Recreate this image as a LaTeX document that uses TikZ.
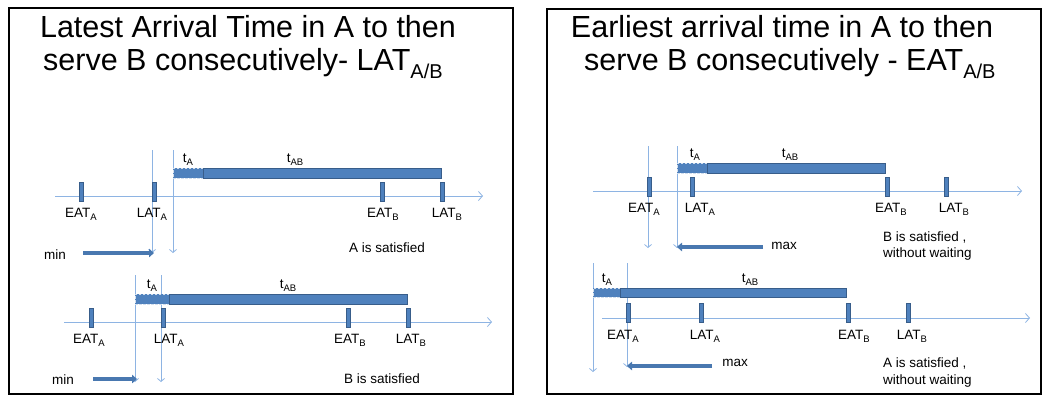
\documentclass[tikz,border=0pt]{standalone}
\usepackage{fontspec}
\setmainfont{Liberation Sans}
\usetikzlibrary{arrows.meta}
\definecolor{barblue}{HTML}{4F81BD}
\definecolor{bardark}{HTML}{385D8A}
\definecolor{axisblue}{HTML}{8EB4E3}
\newcommand{\lsub}[1]{\raisebox{-0.42ex}{\fontsize{9.5}{9.5}\selectfont #1}}
\newcommand{\tsub}[1]{\raisebox{-0.27em}{\fontsize{20}{20}\selectfont #1}}
\begin{document}
\begin{tikzpicture}[x=1pt,y=-1pt,
  frame/.style={draw=black, line width=2pt},
  ttl/.style={inner sep=0, font=\fontsize{30.5}{33}\selectfont},
  lbl/.style={inner sep=0, anchor=base, font=\fontsize{13.5}{15}\selectfont},
  note/.style={inner sep=0, anchor=base west, font=\fontsize{13.5}{15}\selectfont},
  axis/.style={draw=axisblue, line width=0.8pt, -{Straight Barb[length=4pt,width=9pt]}},
  vline/.style={draw=axisblue, line width=0.8pt, -{Straight Barb[length=3pt,width=7pt]}},
  tickmark/.style={rectangle, draw=bardark, fill=barblue, line width=0.5pt, minimum width=4pt, minimum height=19pt, inner sep=0},
  dur/.style={rectangle, draw=bardark, fill=barblue, line width=0.8pt, inner sep=0, anchor=north west},
  wait/.style={dur, draw=white!75!barblue, dash pattern=on 2.5pt off 1.5pt},
  push/.style={draw=barblue!75!bardark, line width=3.8pt, -{Triangle[length=5pt,width=8.5pt]}}
]
\useasboundingbox (0,0) rectangle (1048,397);

% ---------- frames ----------
\node[frame, inner sep=0, minimum width=504pt, minimum height=386pt, anchor=north west] (frameL) at (8,7) {};
\node[frame, inner sep=0, minimum width=494pt, minimum height=385pt, anchor=north west] (frameR) at (546,8) {};

% ---------- titles ----------
\node[ttl, anchor=base] (tL1) at (248,37) {Latest Arrival Time in A to then};
\node[ttl, anchor=base west] (tL2) at (43,70) {serve B consecutively- LAT\tsub{A/B}};
\node[ttl, anchor=base] (tR1) at (782,37) {Earliest arrival time in A to then};
\node[ttl, anchor=base west] (tR2) at (584,70) {serve B consecutively - EAT\tsub{A/B}};

% ================= LEFT TOP =================
\coordinate (a1s) at (55,196); \coordinate (a1e) at (483,196);
\draw[axis] (a1s) -- (a1e);
\coordinate (v1at) at (152,150); \coordinate (v1ab) at (152,253);
\coordinate (v1bt) at (173,150); \coordinate (v1bb) at (173,253);
\draw[vline] (v1at) -- (v1ab);
\draw[vline] (v1bt) -- (v1bb);
\node[wait, minimum width=30pt, minimum height=10pt] (w1) at (173,168) {};
\node[dur, minimum width=238pt, minimum height=10pt] (d1) at (203,168) {};
\node[tickmark] (k1a) at (81,191.5) {};
\node[tickmark] (k1b) at (154,191.5) {};
\node[tickmark] (k1c) at (382,191.5) {};
\node[tickmark] (k1d) at (442,191.5) {};
\node[lbl] (l1a) at (81,217) {EAT\lsub{A}};
\node[lbl] (l1b) at (152,217) {LAT\lsub{A}};
\node[lbl] (l1c) at (383,217) {EAT\lsub{B}};
\node[lbl] (l1d) at (447,217) {LAT\lsub{B}};
\node[lbl] (t1a) at (188,162) {t\lsub{A}};
\node[lbl] (t1b) at (295,162) {t\lsub{AB}};
\node[lbl] (s1) at (387,252) {A is satisfied};
\node[lbl] (m1) at (55,259) {min};
\coordinate (p1s) at (83,253); \coordinate (p1e) at (154,253);
\draw[push] (p1s) -- (p1e);

% ================= LEFT BOTTOM =================
\coordinate (a2s) at (64,322); \coordinate (a2e) at (492,322);
\draw[axis] (a2s) -- (a2e);
\coordinate (v2at) at (135,275); \coordinate (v2ab) at (135,382);
\coordinate (v2bt) at (161,275); \coordinate (v2bb) at (161,382);
\draw[vline] (v2at) -- (v2ab);
\draw[vline] (v2bt) -- (v2bb);
\node[wait, minimum width=34pt, minimum height=10pt] (w2) at (135,294) {};
\node[dur, minimum width=238pt, minimum height=10pt] (d2) at (169,294) {};
\node[tickmark] (k2a) at (91,317.5) {};
\node[tickmark] (k2b) at (163,317.5) {};
\node[tickmark] (k2c) at (348,317.5) {};
\node[tickmark] (k2d) at (408,317.5) {};
\node[lbl] (l2a) at (89,343) {EAT\lsub{A}};
\node[lbl] (l2b) at (169,343) {LAT\lsub{A}};
\node[lbl] (l2c) at (350,343) {EAT\lsub{B}};
\node[lbl] (l2d) at (411,343) {LAT\lsub{B}};
\node[lbl] (t2a) at (152,288) {t\lsub{A}};
\node[lbl] (t2b) at (288,288) {t\lsub{AB}};
\node[lbl] (s2) at (382,383) {B is satisfied};
\node[lbl] (m2) at (63,384) {min};
\coordinate (p2s) at (93,379); \coordinate (p2e) at (137,379);
\draw[push] (p2s) -- (p2e);

% ================= RIGHT TOP =================
\coordinate (a3s) at (593,191); \coordinate (a3e) at (1022,191);
\draw[axis] (a3s) -- (a3e);
\coordinate (v3at) at (648,146); \coordinate (v3ab) at (648,248);
\coordinate (v3bt) at (677,146); \coordinate (v3bb) at (677,248);
\draw[vline] (v3at) -- (v3ab);
\draw[vline] (v3bt) -- (v3bb);
\node[wait, minimum width=30pt, minimum height=10pt] (w3) at (677,163) {};
\node[dur, minimum width=178pt, minimum height=10pt] (d3) at (707,163) {};
\node[tickmark] (k3a) at (649,187) {};
\node[tickmark] (k3b) at (692,187) {};
\node[tickmark] (k3c) at (887,187) {};
\node[tickmark] (k3d) at (946,187) {};
\node[lbl] (l3a) at (644,212) {EAT\lsub{A}};
\node[lbl] (l3b) at (700,212) {LAT\lsub{A}};
\node[lbl] (l3c) at (891,212) {EAT\lsub{B}};
\node[lbl] (l3d) at (954,212) {LAT\lsub{B}};
\node[lbl] (t3a) at (695,157) {t\lsub{A}};
\node[lbl] (t3b) at (790,157) {t\lsub{AB}};
\node[lbl] (m3) at (784,249) {max};
\coordinate (p3s) at (763,247); \coordinate (p3e) at (677,247);
\draw[push] (p3s) -- (p3e);
\node[note] (s3a) at (883,241) {B is satisfied ,};
\node[note] (s3b) at (883,257) {without waiting};

% ================= RIGHT BOTTOM =================
\coordinate (a4s) at (602,318); \coordinate (a4e) at (1030,318);
\draw[axis] (a4s) -- (a4e);
\coordinate (v4at) at (593,263); \coordinate (v4ab) at (593,372);
\coordinate (v4bt) at (627,263); \coordinate (v4bb) at (627,367);
\draw[vline] (v4at) -- (v4ab);
\draw[vline] (v4bt) -- (v4bb);
\node[wait, minimum width=27pt, minimum height=9pt] (w4) at (593,288) {};
\node[dur, minimum width=226pt, minimum height=9pt] (d4) at (620,288) {};
\node[tickmark] (k4a) at (628,312.5) {};
\node[tickmark] (k4b) at (701,312.5) {};
\node[tickmark] (k4c) at (848,312.5) {};
\node[tickmark] (k4d) at (908,312.5) {};
\node[lbl] (l4a) at (623,339) {EAT\lsub{A}};
\node[lbl] (l4b) at (705,339) {LAT\lsub{A}};
\node[lbl] (l4c) at (854,339) {EAT\lsub{B}};
\node[lbl] (l4d) at (912,339) {LAT\lsub{B}};
\node[lbl] (t4a) at (607,282) {t\lsub{A}};
\node[lbl] (t4b) at (750,282) {t\lsub{AB}};
\node[lbl] (m4) at (735,366) {max};
\coordinate (p4s) at (712,366); \coordinate (p4e) at (627,366);
\draw[push] (p4s) -- (p4e);
\node[note] (s4a) at (883,367) {A is satisfied ,};
\node[note] (s4b) at (883,384) {without waiting};
\end{tikzpicture}
\end{document}
